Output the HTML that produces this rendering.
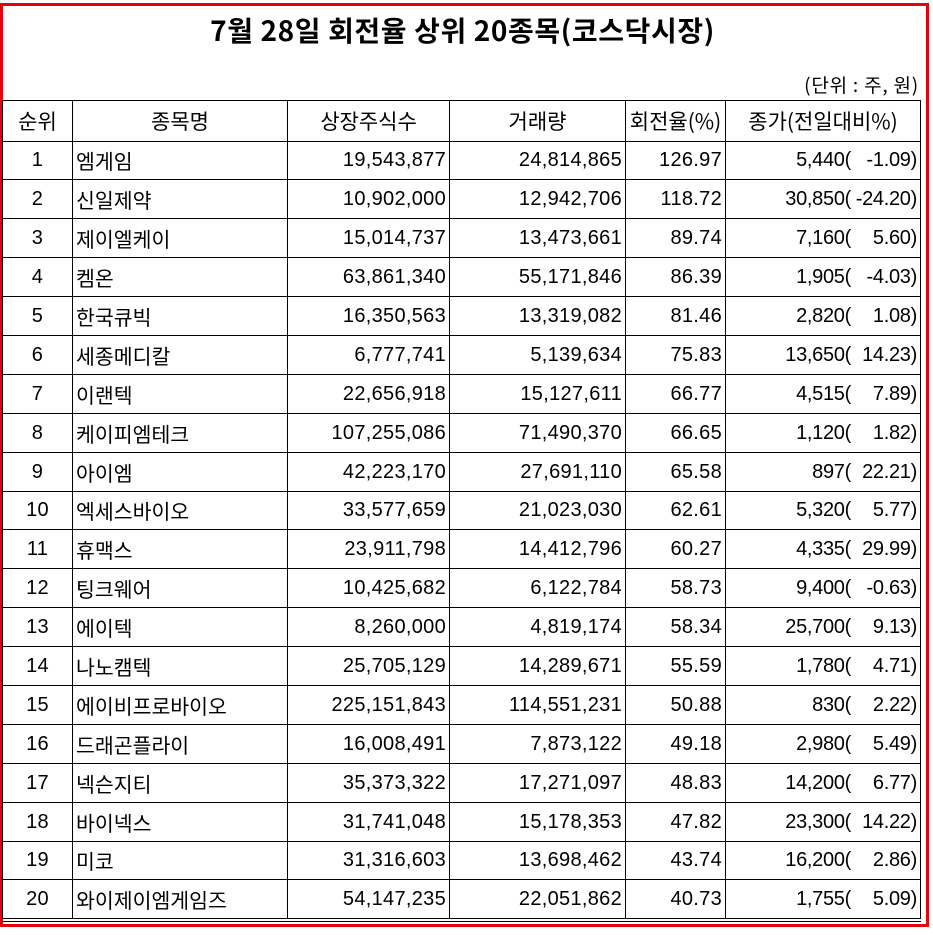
<!DOCTYPE html>
<html><head><meta charset="utf-8"><style>
html,body{margin:0;padding:0;background:#fff;width:933px;height:935px;overflow:hidden}
body{font-family:"Liberation Sans","Noto Sans CJK KR",sans-serif;color:#000;position:relative}
.red{position:absolute;left:0;top:3px;width:923px;height:918px;border:3px solid #e8000b}
.title{position:absolute;left:0;width:925px;top:11px;text-align:center;font-weight:bold;font-size:28px;font-family:"Noto Sans CJK KR",sans-serif;line-height:38px;letter-spacing:0.6px}
.unit{position:absolute;right:14px;top:71px;font-size:19px;font-family:"Noto Sans CJK KR",sans-serif;line-height:28px;letter-spacing:0.8px}
table{position:absolute;left:2px;top:100px;border-collapse:collapse;table-layout:fixed;width:918px}
td{border:1.5px solid #000;height:37.9px;padding:0 3px;font-size:20px;white-space:nowrap;overflow:hidden;line-height:22px;letter-spacing:0.3px}
tr.h td{height:39.5px;text-align:center;font-family:"Noto Sans CJK KR",sans-serif;font-size:21px;letter-spacing:0}
td.c{text-align:center}td.r{text-align:right}td.n{font-family:"Noto Sans CJK KR",sans-serif;font-size:20.5px;letter-spacing:0}
td.p{text-align:right;letter-spacing:-0.3px}
td.p b{font-weight:normal;display:inline-block;width:66px;text-align:right}
tr:last-child td{border-bottom:4px double #000}
</style></head><body>
<div class="red"></div>
<div class="title">7월 28일 회전율 상위 20종목(코스닥시장)</div>
<div class="unit">(단위 : 주, 원)</div>
<table>
<colgroup><col style="width:70px"><col style="width:215px"><col style="width:162px"><col style="width:176px"><col style="width:100px"><col style="width:195px"></colgroup>
<tr class="h"><td>순위</td><td>종목명</td><td>상장주식수</td><td>거래량</td><td>회전율(%)</td><td>종가(전일대비%)</td></tr>
<tr><td class="c">1</td><td class="n">엠게임</td><td class="r">19,543,877</td><td class="r">24,814,865</td><td class="r">126.97</td><td class="p">5,440(<b>-1.09)</b></td></tr>
<tr><td class="c">2</td><td class="n">신일제약</td><td class="r">10,902,000</td><td class="r">12,942,706</td><td class="r">118.72</td><td class="p">30,850(<b>-24.20)</b></td></tr>
<tr><td class="c">3</td><td class="n">제이엘케이</td><td class="r">15,014,737</td><td class="r">13,473,661</td><td class="r">89.74</td><td class="p">7,160(<b>5.60)</b></td></tr>
<tr><td class="c">4</td><td class="n">켐온</td><td class="r">63,861,340</td><td class="r">55,171,846</td><td class="r">86.39</td><td class="p">1,905(<b>-4.03)</b></td></tr>
<tr><td class="c">5</td><td class="n">한국큐빅</td><td class="r">16,350,563</td><td class="r">13,319,082</td><td class="r">81.46</td><td class="p">2,820(<b>1.08)</b></td></tr>
<tr><td class="c">6</td><td class="n">세종메디칼</td><td class="r">6,777,741</td><td class="r">5,139,634</td><td class="r">75.83</td><td class="p">13,650(<b>14.23)</b></td></tr>
<tr><td class="c">7</td><td class="n">이랜텍</td><td class="r">22,656,918</td><td class="r">15,127,611</td><td class="r">66.77</td><td class="p">4,515(<b>7.89)</b></td></tr>
<tr><td class="c">8</td><td class="n">케이피엠테크</td><td class="r">107,255,086</td><td class="r">71,490,370</td><td class="r">66.65</td><td class="p">1,120(<b>1.82)</b></td></tr>
<tr><td class="c">9</td><td class="n">아이엠</td><td class="r">42,223,170</td><td class="r">27,691,110</td><td class="r">65.58</td><td class="p">897(<b>22.21)</b></td></tr>
<tr><td class="c">10</td><td class="n">엑세스바이오</td><td class="r">33,577,659</td><td class="r">21,023,030</td><td class="r">62.61</td><td class="p">5,320(<b>5.77)</b></td></tr>
<tr><td class="c">11</td><td class="n">휴맥스</td><td class="r">23,911,798</td><td class="r">14,412,796</td><td class="r">60.27</td><td class="p">4,335(<b>29.99)</b></td></tr>
<tr><td class="c">12</td><td class="n">팅크웨어</td><td class="r">10,425,682</td><td class="r">6,122,784</td><td class="r">58.73</td><td class="p">9,400(<b>-0.63)</b></td></tr>
<tr><td class="c">13</td><td class="n">에이텍</td><td class="r">8,260,000</td><td class="r">4,819,174</td><td class="r">58.34</td><td class="p">25,700(<b>9.13)</b></td></tr>
<tr><td class="c">14</td><td class="n">나노캠텍</td><td class="r">25,705,129</td><td class="r">14,289,671</td><td class="r">55.59</td><td class="p">1,780(<b>4.71)</b></td></tr>
<tr><td class="c">15</td><td class="n">에이비프로바이오</td><td class="r">225,151,843</td><td class="r">114,551,231</td><td class="r">50.88</td><td class="p">830(<b>2.22)</b></td></tr>
<tr><td class="c">16</td><td class="n">드래곤플라이</td><td class="r">16,008,491</td><td class="r">7,873,122</td><td class="r">49.18</td><td class="p">2,980(<b>5.49)</b></td></tr>
<tr><td class="c">17</td><td class="n">넥슨지티</td><td class="r">35,373,322</td><td class="r">17,271,097</td><td class="r">48.83</td><td class="p">14,200(<b>6.77)</b></td></tr>
<tr><td class="c">18</td><td class="n">바이넥스</td><td class="r">31,741,048</td><td class="r">15,178,353</td><td class="r">47.82</td><td class="p">23,300(<b>14.22)</b></td></tr>
<tr><td class="c">19</td><td class="n">미코</td><td class="r">31,316,603</td><td class="r">13,698,462</td><td class="r">43.74</td><td class="p">16,200(<b>2.86)</b></td></tr>
<tr><td class="c">20</td><td class="n">와이제이엠게임즈</td><td class="r">54,147,235</td><td class="r">22,051,862</td><td class="r">40.73</td><td class="p">1,755(<b>5.09)</b></td></tr>
</table>
</body></html>
